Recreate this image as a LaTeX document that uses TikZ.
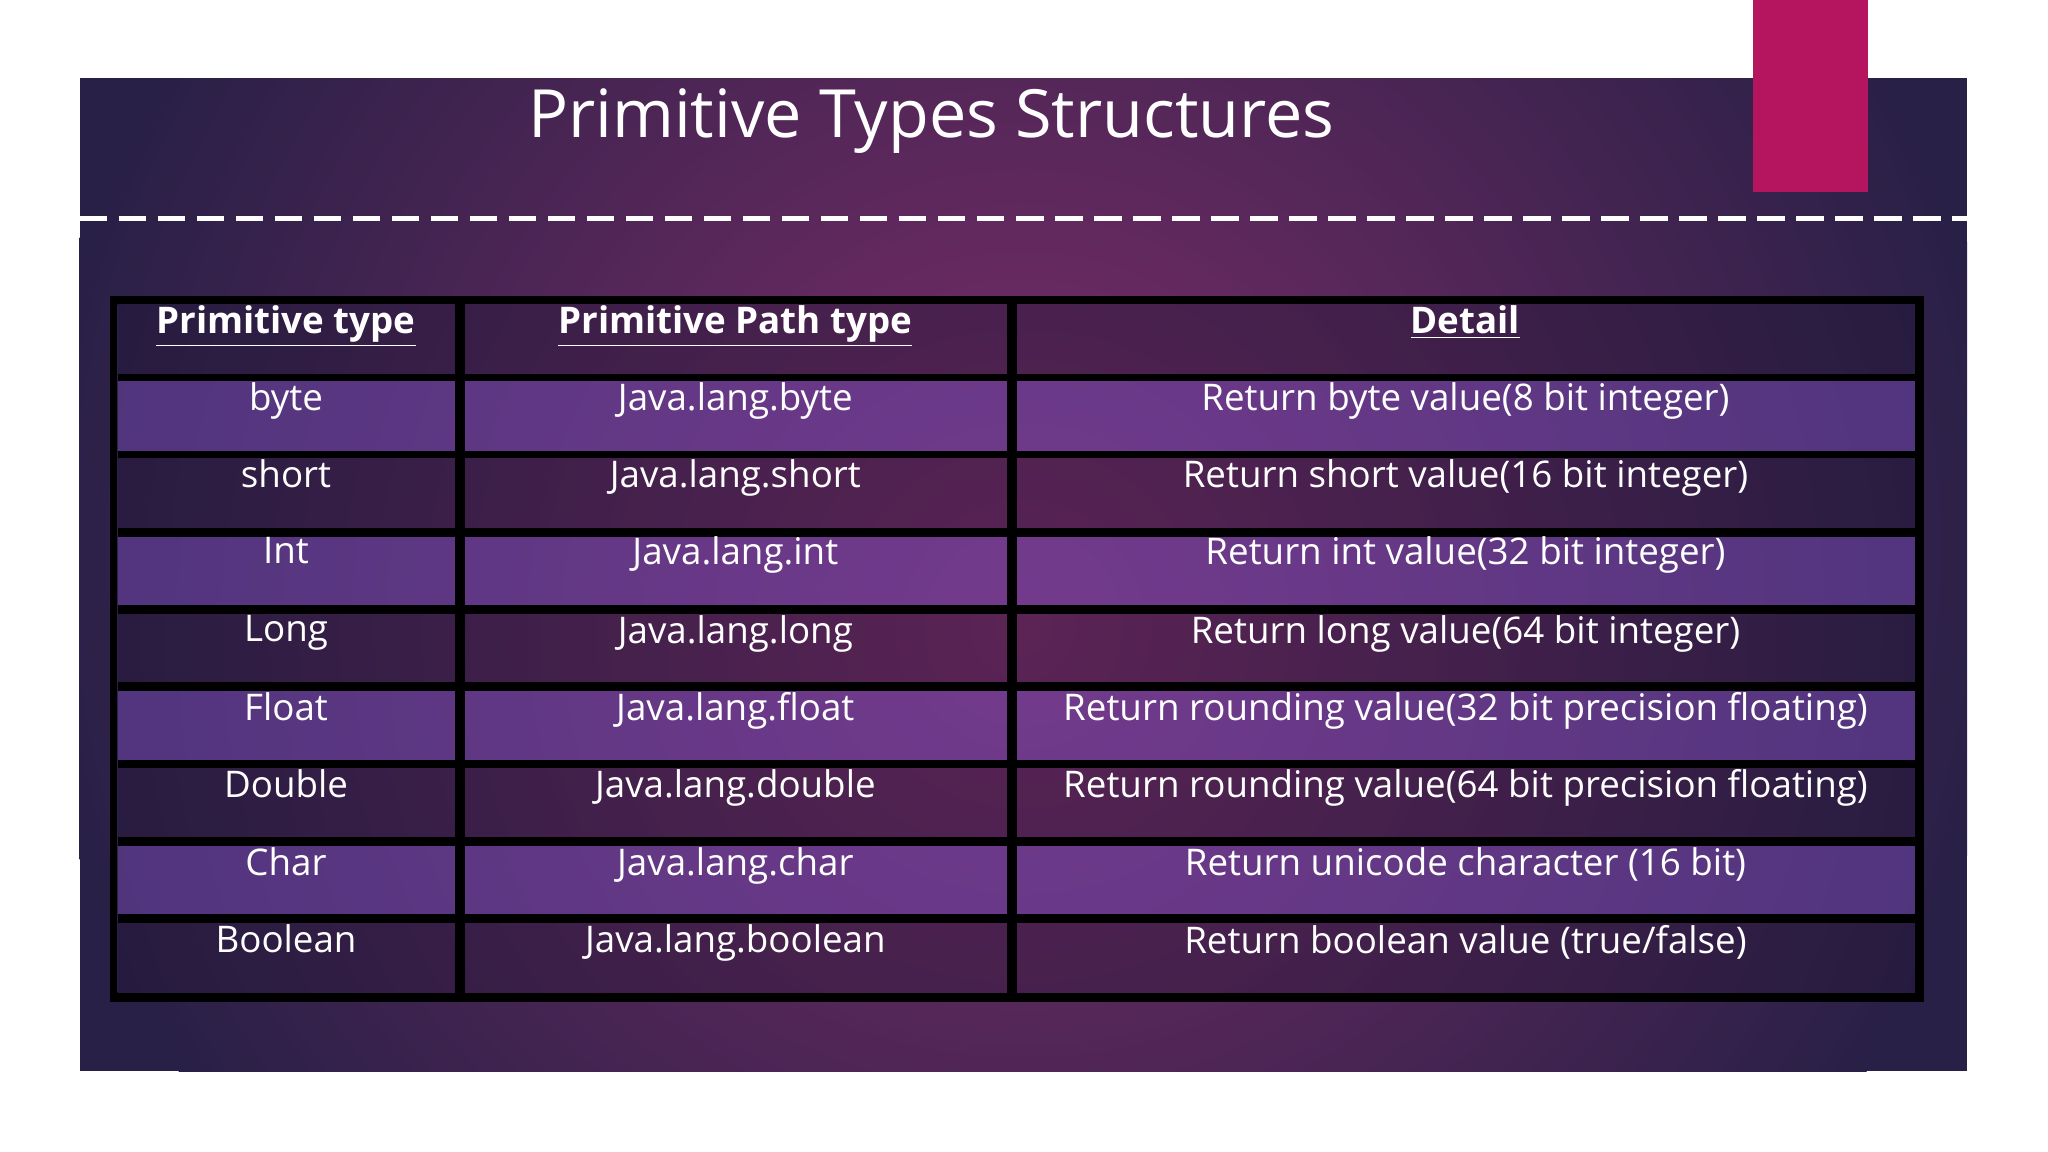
\documentclass[tikz,border=0pt]{standalone}
\usepackage{fontspec}
\setmainfont{Open Sans}
\definecolor{pinktab}{RGB}{181,21,95}
\definecolor{bginner}{RGB}{125,45,105}
\definecolor{bgouter}{RGB}{40,32,70}
\definecolor{celllight}{RGB}{110,70,170}
\definecolor{celldark}{RGB}{30,20,50}
\begin{document}
\begin{tikzpicture}[x=0.02cm,y=-0.02cm,
  celltxt/.style={text=white,font=\fontsize{16}{19}\selectfont,anchor=north},
  hdrtxt/.style={text=white,font=\fontsize{16}{19}\selectfont\bfseries,anchor=north}]
\useasboundingbox[fill=white] (0,0) rectangle (1568,882);
\begin{scope}
\clip (61,60) rectangle (1506,820);
\fill[bgouter] (61,60) rectangle (1506,820);
\shade[inner color=bginner,outer color=bgouter] (783,420) circle (760);
\end{scope}
\fill[pinktab] (1342,0) rectangle (1430,147);
\draw[white,line width=2.2pt,dash pattern=on 12pt off 5pt] (61,167) -- (1506,167);
\node[text=white,font=\fontsize{29}{34}\selectfont] (title) at (713,93) {Primitive Types Structures};
\fill[black] (84,227) rectangle (1473,767);
\begin{scope}
\clip (90,233) rectangle (1466,760);
\shade[inner color=bginner,outer color=bgouter] (783,480) circle (760);
\end{scope}
\foreach \a/\b in {348/356,771/779}{\fill[black] (\a,233) rectangle (\b,760);}
\foreach \top/\bot [count=\r] in {286/292,345/351,404/411,463/470,522/529,582/588,641/648,700/707}{
  \fill[black] (90,\top) rectangle (1466,\bot);}
\foreach \top/\bot [count=\r] in {233/286,292/345,351/404,411/463,470/522,529/582,588/641,648/700,707/760}{
  \pgfmathtruncatemacro\odd{mod(\r,2)}
  \foreach \a/\b in {90/348,356/771,779/1466}{
    \ifnum\odd=0
      \fill[celllight,fill opacity=0.55] (\a,\top) rectangle (\b,\bot);
    \else
      \fill[celldark,fill opacity=0.35] (\a,\top) rectangle (\b,\bot);
    \fi
  }
}
\node[hdrtxt] (h1) at (219,228) {\underline{Primitive type}};
\node[hdrtxt] (h2) at (563,228) {\underline{Primitive Path type}};
\node[hdrtxt] (h3) at (1122,228) {\underline{Detail}};
\foreach \y/\p/\q/\d [count=\i] in {
 287/byte/byte/{Return byte value(8 bit integer)},
 346/short/short/{Return short value(16 bit integer)},
 405/Int/int/{Return int value(32 bit integer)},
 465/Long/long/{Return long value(64 bit integer)},
 524/Float/float/{Return rounding value(32 bit precision floating)},
 583/Double/double/{Return rounding value(64 bit precision floating)},
 643/Char/char/{Return unicode character (16 bit)},
 702/Boolean/boolean/{Return boolean value (true/false)}}{
  \node[celltxt] (a\i) at (219,\y) {\p};
  \node[celltxt] (b\i) at (563,\y) {Java.lang.\q};
  \node[celltxt] (c\i) at (1122,\y) {\d};
}
\end{tikzpicture}
\end{document}
